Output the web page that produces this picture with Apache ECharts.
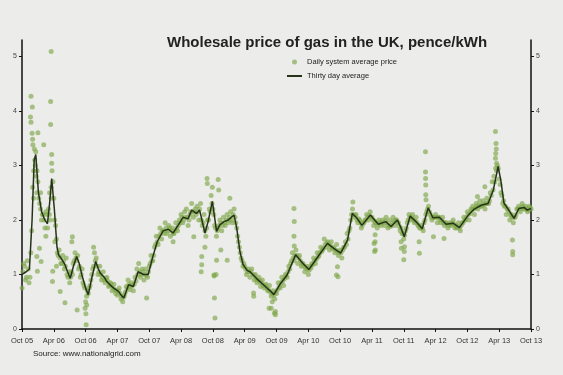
<!DOCTYPE html>
<html>
<head>
<meta charset="utf-8">
<script src="https://cdn.jsdelivr.net/npm/echarts@6/dist/echarts.min.js"></script>
<style>
  html, body { margin: 0; padding: 0; background: #ececea; }
  #chart { width: 563px; height: 375px; }
</style>
</head>
<body>
<div id="chart"></div>
<script>
// x values are months since Oct 2005
const xTickLabels = ['Oct 05', 'Apr 06', 'Oct 06', 'Apr 07', 'Oct 07', 'Apr 08', 'Oct 08', 'Apr 09', 'Oct 09',
  'Apr 10', 'Oct 10', 'Apr 11', 'Oct 11', 'Apr 12', 'Oct 12', 'Apr 13', 'Oct 13'];
const yTicks = [0, 1, 2, 3, 4, 5];

// thirty day average, [month, pence/kWh]
const thirtyDayAvg = [
  [0, 1.0], [0.8, 1.05], [1.4, 1.1], [1.9, 2.0], [2.3, 3.1], [2.6, 3.2], [3.1, 2.5], [3.7, 2.15], [4.3, 2.0],
  [4.8, 1.93], [5.2, 2.3], [5.6, 2.76], [6.1, 2.2], [6.6, 1.5], [6.9, 1.36], [7.5, 1.28], [8.1, 1.18],
  [8.6, 1.05], [9.1, 0.93], [9.7, 1.15], [10.3, 1.33], [10.8, 1.2], [11.3, 0.99], [12.0, 0.75], [12.5, 0.63],
  [13.2, 0.95], [13.9, 1.24], [14.4, 1.1], [14.8, 1.02], [15.5, 0.95], [16.0, 0.87], [16.7, 0.8], [17.3, 0.75],
  [18.2, 0.69], [18.7, 0.62], [19.2, 0.57], [20.1, 0.81], [21.0, 0.78], [21.9, 1.05], [22.9, 1.0], [23.8, 1.0],
  [24.6, 1.3], [25.5, 1.6], [26.6, 1.8], [27.6, 1.83], [28.5, 1.76], [29.5, 1.91], [30.4, 2.05], [31.3, 2.02],
  [32.0, 2.18], [32.9, 2.12], [33.5, 2.18], [34.5, 1.76], [35.1, 1.97], [35.9, 2.34], [36.7, 1.79], [37.3, 1.91],
  [38.1, 1.97], [38.9, 2.0], [40.0, 2.09], [40.5, 1.85], [41.1, 1.42], [41.7, 1.18], [42.5, 1.07], [43.0, 1.05],
  [44.3, 0.92], [45.9, 0.78], [46.8, 0.7], [47.5, 0.63], [48.8, 0.84], [50.0, 0.99], [51.6, 1.36], [52.9, 1.21],
  [54.1, 1.09], [55.4, 1.27], [57.6, 1.57], [58.8, 1.48], [60.1, 1.39], [61.4, 1.63], [62.3, 2.12], [63.2, 2.03],
  [64.1, 1.9], [65.7, 2.09], [67.2, 1.92], [68.6, 1.97], [69.6, 1.88], [70.8, 2.0], [71.5, 1.85], [72.1, 1.69],
  [73.2, 2.07], [74.3, 1.97], [75.5, 1.84], [76.6, 2.22], [77.5, 2.04], [78.7, 2.05], [80.0, 1.92], [81.3, 1.94],
  [82.5, 1.86], [84.1, 2.08], [85.3, 2.2], [86.6, 2.27], [87.9, 2.3], [88.9, 2.55], [89.8, 2.98], [90.3, 2.73],
  [90.9, 2.31], [91.8, 2.18], [92.8, 2.03], [93.7, 2.21], [94.7, 2.23], [95.3, 2.18], [96.0, 2.21]
];

// daily system average price, [month, pence/kWh]
const dailyPrice = [
  [0, 0.75], [0.33, 1.2], [0.67, 0.9], [1, 1.25], [1.33, 0.85], [1.67, 1.4],
  [1.7, 4.27], [1.95, 4.07], [1.6, 3.89], [1.7, 3.79], [1.9, 3.59], [2.0, 3.48], [2.05, 3.38],
  [2, 2.6], [2.2, 2.9], [2.33, 3.3], [2.5, 3.0], [2.67, 2.8], [2.8, 2.5], [2.8, 1.33], [2.9, 1.06],
  [3, 2.7], [3.33, 2.3], [3.5, 2.5], [3.67, 2.0], [3.0, 3.6], [3.3, 1.48], [3.6, 1.24],
  [4, 2.1], [4.1, 3.38], [4.33, 1.85], [4.67, 2.1], [4.5, 1.7],
  [5, 2.2], [5.2, 2.5], [5.33, 2.0], [5.5, 2.6], [5.67, 2.9], [5.4, 4.17], [5.5, 5.09], [5.4, 3.75],
  [5.6, 3.2], [5.6, 3.04], [5.75, 0.87], [5.8, 1.06],
  [6, 2.4], [6.33, 1.9], [6.67, 1.4], [6.2, 1.6], [6.5, 1.15],
  [7, 1.45], [7.2, 0.69], [7.33, 1.2], [7.67, 1.35],
  [8, 1.1], [8.1, 0.48], [8.33, 1.3], [8.67, 0.95],
  [9, 0.85], [9.33, 1.05], [9.4, 1.6], [9.5, 1.69], [9.67, 1.2],
  [10, 1.4], [10.33, 1.25], [10.4, 0.35], [10.67, 1.1],
  [11, 0.95], [11.33, 1.1], [11.67, 0.8], [11.9, 0.38],
  [12, 0.5], [12.1, 0.08], [12.05, 0.28], [12.33, 0.7], [12.2, 0.44], [12.67, 0.75],
  [13, 0.9], [13.33, 1.1], [13.67, 1.4], [13.5, 1.5],
  [14, 1.3], [14.33, 1.0], [14.67, 1.15],
  [15, 0.9], [15.33, 1.05], [15.67, 0.85],
  [16, 0.95], [16.33, 0.78], [16.67, 0.85],
  [17, 0.7], [17.33, 0.82], [17.67, 0.65],
  [18, 0.62], [18.33, 0.75], [18.67, 0.55],
  [19, 0.5], [19.33, 0.62], [19.67, 0.78],
  [20, 0.9], [20.33, 0.72], [20.67, 0.85],
  [21, 0.7], [21.33, 0.95], [21.67, 1.1],
  [22, 1.2], [22.33, 0.95], [22.67, 1.1],
  [23, 0.9], [23.33, 1.1], [23.5, 0.57], [23.67, 0.95],
  [24, 1.15], [24.33, 1.35], [24.67, 1.25],
  [25, 1.5], [25.33, 1.7], [25.67, 1.55],
  [26, 1.85], [26.33, 1.65], [26.67, 1.8],
  [27, 1.95], [27.33, 1.75], [27.67, 1.9],
  [28, 1.7], [28.33, 1.85], [28.67, 1.75], [28.5, 1.6],
  [29, 1.95], [29.33, 1.8], [29.67, 2.0],
  [30, 2.1], [30.33, 1.95], [30.67, 2.15],
  [31, 2.2], [31.33, 1.9], [31.67, 2.1],
  [32, 2.3], [32.33, 2.05], [32.4, 1.69], [32.67, 2.2],
  [33, 2.25], [33.33, 2.0], [33.67, 2.3], [33.9, 1.33], [33.9, 1.18], [33.8, 1.05],
  [34, 1.9], [34.33, 2.1], [34.67, 1.7], [34.9, 2.76], [34.95, 2.67], [34.5, 1.5],
  [35, 2.0], [35.33, 2.2], [35.67, 2.45], [35.9, 2.6],
  [36, 2.2], [36.33, 1.9], [36.2, 0.99], [36.25, 0.97], [36.3, 0.57], [36.4, 0.2], [36.67, 1.7], [36.7, 1.26], [36.6, 1.0],
  [37, 1.85], [37.0, 2.74], [37.1, 2.55], [37.33, 2.0], [37.67, 1.8], [37.5, 1.45],
  [38, 2.05], [38.33, 1.9], [38.67, 2.1], [38.7, 1.26],
  [39, 2.0], [39.2, 2.4], [39.33, 2.15], [39.67, 1.95],
  [40, 2.2], [40.33, 1.95], [40.67, 1.7],
  [41, 1.5], [41.33, 1.3], [41.67, 1.15],
  [42, 1.15], [42.33, 1.0], [42.67, 1.1],
  [43, 0.95], [43.33, 1.1], [43.67, 0.66], [43.7, 0.6], [43.8, 0.9],
  [44, 1.0], [44.33, 0.85], [44.67, 0.95],
  [45, 0.78], [45.33, 0.9], [45.67, 0.75],
  [46, 0.82], [46.33, 0.7], [46.6, 0.38], [46.67, 0.8],
  [47, 0.6], [47.0, 0.38], [47.2, 0.5], [47.33, 0.7], [47.6, 0.29], [47.67, 0.55], [47.8, 0.32], [47.8, 0.26],
  [48, 0.65], [48.33, 0.85], [48.67, 0.75],
  [49, 0.95], [49.33, 0.8], [49.67, 1.0],
  [50, 0.95], [50.33, 1.15], [50.67, 1.2],
  [51, 1.4], [51.3, 2.21], [51.35, 1.97], [51.3, 1.7], [51.35, 1.52], [51.33, 1.25], [51.67, 1.45],
  [52, 1.2], [52.33, 1.35], [52.67, 1.15],
  [53, 1.2], [53.33, 1.05], [53.67, 1.15],
  [54, 1.0], [54.33, 1.15], [54.67, 1.2],
  [55, 1.3], [55.33, 1.2], [55.67, 1.4],
  [56, 1.35], [56.33, 1.5], [56.67, 1.45],
  [57, 1.65], [57.33, 1.5], [57.67, 1.6],
  [58, 1.45], [58.33, 1.6], [58.67, 1.5],
  [59, 1.4], [59.3, 0.99], [59.33, 1.55], [59.5, 1.14], [59.67, 1.35], [59.6, 0.96],
  [60, 1.45], [60.33, 1.3], [60.67, 1.5],
  [61, 1.6], [61.33, 1.75], [61.67, 1.8],
  [62, 2.0], [62.33, 2.2], [62.4, 2.33], [62.67, 2.05],
  [63, 2.1], [63.33, 1.95], [63.67, 2.0],
  [64, 1.85], [64.33, 1.95], [64.67, 2.0],
  [65, 2.1], [65.33, 2.0], [65.67, 2.15],
  [66, 2.05], [66.33, 1.9], [66.4, 1.57], [66.5, 1.42], [66.6, 1.73], [66.6, 1.6], [66.65, 1.45], [66.67, 1.95],
  [67, 1.85], [67.33, 2.0], [67.67, 1.9],
  [68, 2.0], [68.33, 1.9], [68.67, 2.05],
  [69, 1.85], [69.33, 2.0], [69.67, 1.9],
  [70, 2.05], [70.33, 1.9], [70.67, 2.0],
  [71, 1.95], [71.33, 1.8], [71.5, 1.6], [71.55, 1.48], [71.67, 1.75],
  [72, 1.65], [72.0, 1.27], [72.1, 1.42], [72.15, 1.51], [72.33, 1.8], [72.67, 1.95],
  [73, 2.1], [73.33, 2.0], [73.67, 2.1],
  [74, 1.95], [74.33, 2.05], [74.67, 1.9],
  [75, 1.85], [74.9, 1.6], [74.95, 1.39], [75.33, 1.9], [75.67, 1.8],
  [76, 2.0], [76.1, 3.25], [76.1, 2.88], [76.12, 2.76], [76.15, 2.64], [76.15, 2.46], [76.2, 2.37], [76.33, 2.15], [76.67, 2.25],
  [77, 2.1], [77.33, 2.0], [77.6, 1.69], [77.67, 2.05],
  [78, 2.1], [78.33, 1.95], [78.67, 2.05],
  [79, 1.95], [79.33, 2.05], [79.6, 1.66], [79.67, 1.9],
  [80, 1.95], [80.33, 1.85], [80.67, 1.95],
  [81, 1.9], [81.33, 2.0], [81.67, 1.85],
  [82, 1.85], [82.33, 1.95], [82.67, 1.8],
  [83, 1.95], [83.33, 2.05], [83.67, 2.0],
  [84, 2.15], [84.33, 2.0], [84.67, 2.2],
  [85, 2.25], [85.33, 2.1], [85.67, 2.3], [85.9, 2.43],
  [86, 2.2], [86.33, 2.35], [86.67, 2.25],
  [87, 2.35], [87.33, 2.2], [87.3, 2.61], [87.67, 2.4],
  [88, 2.3], [88.33, 2.5], [88.67, 2.7],
  [89, 2.8], [89.3, 3.62], [89.4, 3.4], [89.45, 3.3], [89.35, 3.22], [89.3, 3.13], [89.5, 3.04], [89.33, 2.95], [89.67, 3.0],
  [90, 2.75], [90.33, 2.5], [90.67, 2.3],
  [91, 2.25], [91.33, 2.1], [91.67, 2.2],
  [92, 2.0], [92.33, 2.1], [92.5, 1.63], [92.55, 1.42], [92.55, 1.36], [92.67, 1.95],
  [93, 2.05], [93.33, 2.2], [93.67, 2.25],
  [94, 2.15], [94.33, 2.3], [94.67, 2.2],
  [95, 2.25], [95.33, 2.15], [95.67, 2.25],
  [96, 2.2],
  // days in between, close to the average
  [0.17, 1.05], [0.5, 1.15], [0.83, 0.95], [1.17, 1.1], [1.5, 0.95], [1.83, 1.8],
  [2.17, 2.4], [2.4, 3.1], [2.6, 3.25], [2.83, 2.9], [3.17, 2.4], [3.5, 2.2], [3.83, 2.1],
  [4.17, 2.0], [4.5, 2.15], [4.83, 1.85], [5.17, 2.1], [5.5, 2.4], [5.83, 2.7],
  [6.17, 2.0], [6.5, 1.65], [6.83, 1.35], [7.17, 1.3], [7.5, 1.2], [7.83, 1.25],
  [8.17, 1.15], [8.5, 1.0], [8.83, 1.05], [9.17, 0.95], [9.5, 1.0], [9.83, 1.25],
  [10.17, 1.3], [10.5, 1.35], [10.83, 1.15], [11.17, 1.0], [11.5, 0.85], [11.83, 0.75],
  [12.17, 0.6], [12.5, 0.65], [12.83, 0.8], [13.17, 1.0], [13.5, 1.15], [13.83, 1.25],
  [14.17, 1.15], [14.5, 1.05], [14.83, 1.0], [15.17, 0.95], [15.5, 0.9], [15.83, 0.92],
  [16.17, 0.88], [16.5, 0.8], [16.83, 0.82], [17.17, 0.75], [17.5, 0.72], [17.83, 0.7],
  [18.17, 0.7], [18.5, 0.65], [18.83, 0.6], [19.17, 0.58], [19.5, 0.68], [19.83, 0.75],
  [20.17, 0.82], [20.5, 0.78], [20.83, 0.8], [21.17, 0.82], [21.5, 0.88], [21.83, 1.0],
  [22.17, 1.05], [22.5, 1.0], [22.83, 1.05], [23.17, 1.0], [23.5, 0.98], [23.83, 1.05],
  [24.17, 1.2], [24.5, 1.25], [24.83, 1.35], [25.17, 1.55], [25.5, 1.6], [25.83, 1.7],
  [26.17, 1.75], [26.5, 1.8], [26.83, 1.75], [27.17, 1.85], [27.5, 1.8], [27.83, 1.85],
  [28.17, 1.8], [28.5, 1.75], [28.83, 1.8], [29.17, 1.85], [29.5, 1.9], [29.83, 1.95],
  [30.17, 2.05], [30.5, 2.0], [30.83, 2.05], [31.17, 2.05], [31.5, 2.0], [31.83, 2.15],
  [32.17, 2.15], [32.5, 2.15], [32.83, 2.1], [33.17, 2.15], [33.5, 2.2], [33.83, 2.0],
  [34.17, 1.95], [34.5, 1.8], [34.83, 1.85], [35.17, 2.0], [35.5, 2.15], [35.83, 2.3],
  [36.17, 2.1], [36.5, 1.85], [36.83, 1.8], [37.17, 1.9], [37.5, 1.95], [37.83, 1.9],
  [38.17, 1.95], [38.5, 2.0], [38.83, 1.95], [39.17, 2.05], [39.5, 2.0], [39.83, 2.1],
  [40.17, 2.05], [40.5, 1.85], [40.83, 1.6], [41.17, 1.4], [41.5, 1.25], [41.83, 1.2],
  [42.17, 1.1], [42.5, 1.05], [42.83, 1.05], [43.17, 1.05], [43.5, 1.0], [43.83, 0.98],
  [44.17, 0.92], [44.5, 0.9], [44.83, 0.88], [45.17, 0.85], [45.5, 0.8], [45.83, 0.8],
  [46.17, 0.75], [46.5, 0.72], [46.83, 0.68], [47.17, 0.65], [47.5, 0.62], [47.83, 0.68],
  [48.17, 0.72], [48.5, 0.78], [48.83, 0.85], [49.17, 0.88], [49.5, 0.92], [49.83, 0.98],
  [50.17, 1.05], [50.5, 1.1], [50.83, 1.25], [51.17, 1.3], [51.5, 1.35], [51.83, 1.35],
  [52.17, 1.3], [52.5, 1.25], [52.83, 1.2], [53.17, 1.15], [53.5, 1.12], [53.83, 1.1],
  [54.17, 1.08], [54.5, 1.12], [54.83, 1.18], [55.17, 1.25], [55.5, 1.28], [55.83, 1.32],
  [56.17, 1.4], [56.5, 1.42], [56.83, 1.48], [57.17, 1.55], [57.5, 1.58], [57.83, 1.55],
  [58.17, 1.52], [58.5, 1.48], [58.83, 1.47], [59.17, 1.45], [59.5, 1.42], [59.83, 1.4],
  [60.17, 1.4], [60.5, 1.45], [60.83, 1.5], [61.17, 1.55], [61.5, 1.65], [61.83, 1.85],
  [62.17, 2.1], [62.5, 2.1], [62.83, 2.08], [63.17, 2.0], [63.5, 2.02], [63.83, 1.95],
  [64.17, 1.9], [64.5, 1.95], [64.83, 2.0], [65.17, 2.05], [65.5, 2.08], [65.83, 2.05],
  [66.17, 2.0], [66.5, 1.98], [66.83, 1.95], [67.17, 1.92], [67.5, 1.95], [67.83, 1.95],
  [68.17, 1.95], [68.5, 1.98], [68.83, 1.95], [69.17, 1.9], [69.5, 1.88], [69.83, 1.95],
  [70.17, 1.98], [70.5, 2.0], [70.83, 1.95], [71.17, 1.88], [71.5, 1.85], [71.83, 1.75],
  [72.17, 1.72], [72.5, 1.85], [72.83, 2.0], [73.17, 2.05], [73.5, 2.05], [73.83, 2.0],
  [74.17, 1.98], [74.5, 1.95], [74.83, 1.9], [75.17, 1.85], [75.5, 1.85], [75.83, 1.95],
  [76.17, 2.1], [76.5, 2.2], [76.83, 2.15], [77.17, 2.05], [77.5, 2.05], [77.83, 2.05],
  [78.17, 2.05], [78.5, 2.05], [78.83, 2.0], [79.17, 2.0], [79.5, 1.95], [79.83, 1.95],
  [80.17, 1.92], [80.5, 1.9], [80.83, 1.93], [81.17, 1.95], [81.5, 1.92], [81.83, 1.9],
  [82.17, 1.88], [82.5, 1.85], [82.83, 1.9], [83.17, 1.95], [83.5, 2.0], [83.83, 2.05],
  [84.17, 2.1], [84.5, 2.12], [84.83, 2.18], [85.17, 2.2], [85.5, 2.22], [85.83, 2.25],
  [86.17, 2.27], [86.5, 2.25], [86.83, 2.28], [87.17, 2.28], [87.5, 2.3], [87.83, 2.3],
  [88.17, 2.35], [88.5, 2.45], [88.83, 2.55], [89.17, 2.7], [89.5, 2.9], [89.83, 2.95],
  [90.17, 2.65], [90.5, 2.45], [90.83, 2.35], [91.17, 2.25], [91.5, 2.2], [91.83, 2.15],
  [92.17, 2.08], [92.5, 2.05], [92.83, 2.05], [93.17, 2.1], [93.5, 2.2], [93.83, 2.2],
  [94.17, 2.22], [94.5, 2.25], [94.83, 2.2], [95.17, 2.2], [95.5, 2.18], [95.83, 2.22]
];

const chart = echarts.init(document.getElementById('chart'));

const yAxisBase = {
  type: 'value',
  min: 0,
  max: 5.3,
  splitLine: { show: false },
  axisLine: { show: true, lineStyle: { color: '#111', width: 1.5 } },
  axisTick: { show: true, length: 3, customValues: yTicks, lineStyle: { color: '#111' } },
  axisLabel: { customValues: yTicks, fontSize: 7, color: '#444', fontFamily: 'Liberation Sans', margin: 5 }
};

chart.setOption({
  backgroundColor: '#ececea',
  animation: false,
  title: {
    text: 'Wholesale price of gas in the UK, pence/kWh',
    left: 162,
    top: 30,
    textStyle: { fontSize: 15, fontWeight: 'bold', color: '#222', fontFamily: 'Liberation Sans' }
  },
  legend: {
    orient: 'vertical',
    left: 281,
    top: 53,
    itemWidth: 15,
    itemHeight: 5,
    itemGap: 6,
    textStyle: { fontSize: 7.5, color: '#222', fontFamily: 'Liberation Sans' },
    data: [
      { name: 'Daily system average price' },
      { name: 'Thirty day average', itemStyle: { opacity: 0 } }
    ]
  },
  grid: { left: 22, right: 32, top: 40, bottom: 46 },
  xAxis: {
    type: 'value',
    min: 0,
    max: 96,
    interval: 6,
    splitLine: { show: false },
    axisLine: { onZero: false, lineStyle: { color: '#111', width: 1.5 } },
    axisTick: { show: true, length: 3, lineStyle: { color: '#111' } },
    axisLabel: {
      fontSize: 7.5,
      color: '#333',
      fontFamily: 'Liberation Sans',
      margin: 8,
      formatter: v => xTickLabels[Math.round(v / 6)]
    }
  },
  yAxis: [
    Object.assign({ position: 'left' }, yAxisBase),
    Object.assign({ position: 'right' }, yAxisBase)
  ],
  graphic: [{
    type: 'text',
    left: 33,
    top: 350,
    style: { text: 'Source: www.nationalgrid.com', fontSize: 8, fill: '#222', fontFamily: 'Liberation Sans' }
  }],
  series: [
    {
      name: 'Daily system average price',
      type: 'scatter',
      symbolSize: 5,
      itemStyle: { color: '#80a84a', opacity: 0.65 },
      data: dailyPrice,
      z: 2
    },
    {
      name: 'Thirty day average',
      type: 'line',
      symbol: 'none',
      lineStyle: { color: '#26331a', width: 1.5 },
      itemStyle: { color: '#26331a' },
      data: thirtyDayAvg,
      z: 3
    }
  ]
});
</script>
</body>
</html>
